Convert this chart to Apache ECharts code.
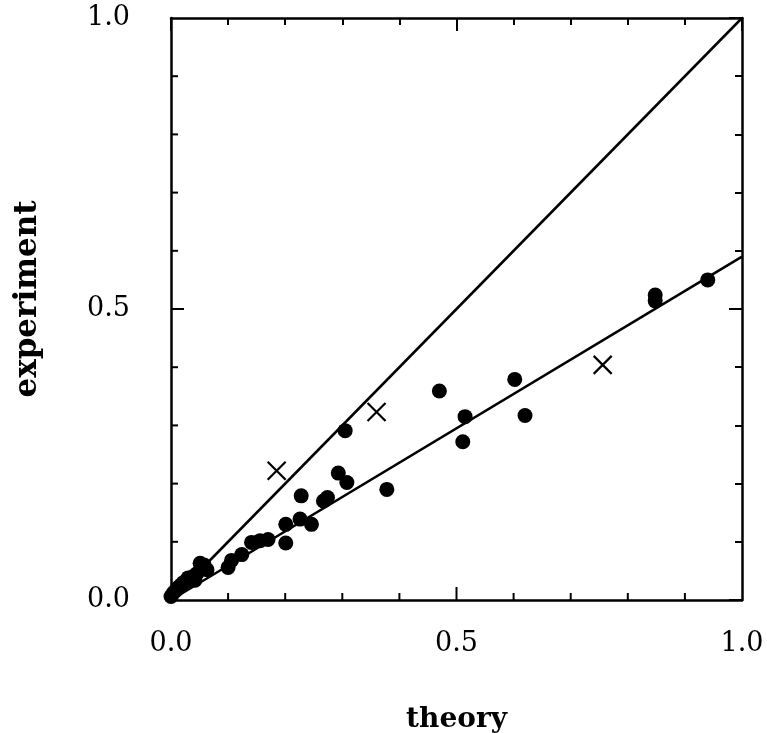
<!DOCTYPE html>
<html>
<head>
<meta charset="utf-8">
<script src="https://cdn.jsdelivr.net/npm/echarts@6/dist/echarts.min.js"></script>
<style>html,body{margin:0;padding:0;background:#fff;}#c{width:767px;height:733px;}</style>
</head>
<body>
<div id="c"></div>
<script>
// Filled circles (theory, experiment)
const dots = [
  [0.000,0.006],[0.004,0.012],[0.008,0.016],[0.013,0.022],[0.018,0.026],[0.022,0.030],
  [0.028,0.033],[0.030,0.038],[0.038,0.040],[0.042,0.034],[0.045,0.045],[0.051,0.063],
  [0.058,0.060],[0.063,0.052],[0.100,0.056],[0.106,0.068],[0.124,0.078],[0.141,0.099],
  [0.156,0.102],[0.170,0.104],[0.201,0.130],[0.201,0.098],[0.226,0.139],[0.228,0.179],
  [0.246,0.130],[0.267,0.170],[0.274,0.176],[0.293,0.218],[0.305,0.291],[0.308,0.202],
  [0.378,0.190],[0.470,0.359],[0.511,0.272],[0.515,0.315],[0.602,0.379],[0.620,0.317],
  [0.848,0.524],[0.848,0.514],[0.940,0.550]
];
// Crosses
const crosses = [[0.185,0.222],[0.360,0.323],[0.756,0.404]];
// Reference lines
const identityLine = [[0,0],[1,1]];
const fitLine = [[0,0],[1,0.59]];
// Tick labels and tick positions
const xTicks = [0.0, 0.5, 1.0];
const yTicks = [0.0, 0.5, 1.0];
const majorTickValues = [0.5];
const minorTickValues = [0.1, 0.2, 0.3, 0.4, 0.6, 0.7, 0.8, 0.9];

const font = 'DejaVu Serif';
const MAJ = 13, MIN = 7;
function tickAxis(gridIndex, position) {
  return {
    type: 'value', min: 0, max: 1, interval: 0.5, gridIndex: gridIndex, position: position,
    axisLine: {show: true, onZero: false, lineStyle: {color: '#000', width: 2.5}},
    axisTick: {show: true, inside: true, length: MAJ, lineStyle: {color: '#000', width: 2}},
    minorTick: {show: true, splitNumber: 5, length: MIN, lineStyle: {color: '#000', width: 2}},
    splitLine: {show: false},
    axisLabel: {show: false}
  };
}
function labelAxis(position, ticks, pad) {
  return {
    type: 'value', min: 0, max: 1, interval: 0.5, gridIndex: 0, position: position,
    axisLine: {show: true, onZero: false, lineStyle: {color: '#000', width: 2.5}},
    axisTick: {show: false},
    splitLine: {show: false},
    axisLabel: {
      show: true, color: '#000', fontFamily: font, fontSize: 27, padding: pad,
      formatter: v => ticks.includes(v) ? v.toFixed(1) : ''
    }
  };
}
// Tick marks on bottom / left edges drawn as thin rect symbols placed by the axes' scales
function tickSeries(values, len, horizontalAxis) {
  return {
    type: 'scatter', xAxisIndex: 0, yAxisIndex: 0, clip: false, silent: true, z: 4,
    data: values.map(v => horizontalAxis ? [v, 0] : [0, v]),
    symbol: 'rect',
    symbolSize: horizontalAxis ? [2, len] : [len, 2],
    symbolOffset: horizontalAxis ? [0, -len / 2] : [len / 2, 0],
    itemStyle: {color: '#000', opacity: 1}
  };
}
const base = {outerBoundsMode: 'none', containLabel: false};
const gridBox = () => Object.assign({left: 171, right: 25, top: 18, bottom: 133}, base);
const chart = echarts.init(document.getElementById('c'), null, {renderer: 'canvas'});
chart.setOption({
  animation: false,
  backgroundColor: '#fff',
  grid: [gridBox(), gridBox()],
  xAxis: [
    Object.assign(labelAxis('bottom', xTicks, [22, 0, 0, 0]), {
      name: 'theory', nameLocation: 'middle', nameGap: 106,
      nameTextStyle: {color: '#000', fontFamily: font, fontSize: 28, fontWeight: 'bold'}
    }),
    tickAxis(1, 'top')
  ],
  yAxis: [
    Object.assign(labelAxis('left', yTicks, [0, 33, 0, 0]), {
      name: 'experiment', nameLocation: 'middle', nameGap: 128,
      nameTextStyle: {color: '#000', fontFamily: font, fontSize: 31, fontWeight: 'bold', padding: [0, 0, 0, 20]}
    }),
    tickAxis(1, 'right')
  ],
  series: [
    {type: 'line', data: identityLine, symbol: 'none', lineStyle: {color: '#000', width: 2.5}, z: 1},
    {type: 'line', data: fitLine, symbol: 'none', lineStyle: {color: '#000', width: 2.5}, z: 1},
    tickSeries(majorTickValues, MAJ, true),
    tickSeries(minorTickValues, MIN, true),
    tickSeries(majorTickValues, MAJ, false),
    tickSeries(minorTickValues, MIN, false),
    {type: 'scatter', data: dots, symbol: 'circle', symbolSize: 15, itemStyle: {color: '#000', opacity: 1}, z: 3},
    {type: 'scatter', data: crosses, symbol: 'path://M0,0L10,10M10,0L0,10', symbolSize: 18,
     itemStyle: {color: 'none', borderColor: '#000', borderWidth: 2.2, opacity: 1}, z: 3}
  ]
});
</script>
</body>
</html>
